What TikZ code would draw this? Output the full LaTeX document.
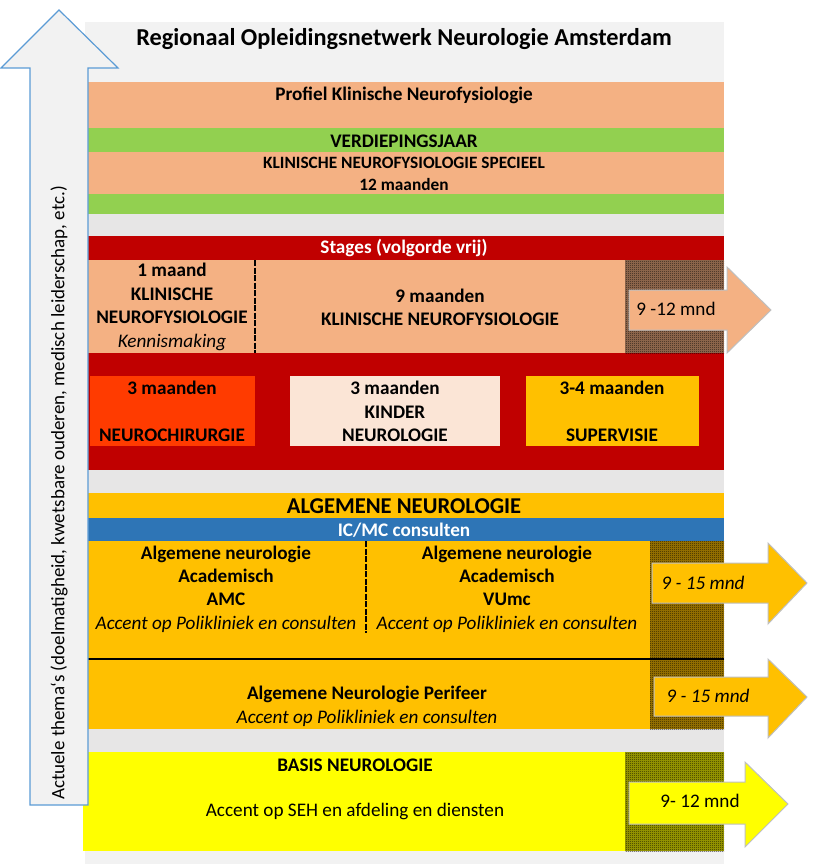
\documentclass[tikz,border=0pt]{standalone}
\usepackage{fontspec}
\setmainfont{Carlito}
\usepackage{xcolor}
\usetikzlibrary{patterns.meta}

\definecolor{panelgray}{HTML}{F2F2F2}
\definecolor{gapgray}{HTML}{E7E6E6}
\definecolor{salmon}{HTML}{F4B183}
\definecolor{leafgreen}{HTML}{92D050}
\definecolor{stagered}{HTML}{C00000}
\definecolor{flame}{HTML}{FF3B00}
\definecolor{blush}{HTML}{FBE5D6}
\definecolor{gold}{HTML}{FFC000}
\definecolor{icblue}{HTML}{2E75B6}
\definecolor{lemon}{HTML}{FFFF00}
\definecolor{themeblue}{HTML}{5B9BD5}

\tikzdeclarepattern{
  name=finechecker,
  type=uncolored,
  bottom left={(0pt,0pt)},
  top right={(2pt,2pt)},
  tile size={(2pt,2pt)},
  code={
    \fill (0pt,0pt) rectangle (1pt,1pt);
    \fill (1pt,1pt) rectangle (2pt,2pt);
  }
}

\begin{document}
\begin{tikzpicture}[x=1pt,y=-1pt]

\tikzstyle{txt} = [font=\fontsize{19.2}{23.4}\selectfont\bfseries, align=center, inner sep=0pt]
\tikzstyle{smalltxt} = [font=\fontsize{17.3}{22}\selectfont\bfseries, align=center, inner sep=0pt]
\tikzstyle{mndtxt} = [font=\fontsize{19.2}{23}\selectfont, inner sep=0pt]
\tikzstyle{hatch} = [pattern={finechecker}, pattern color=black]
\tikzstyle{mndarrow} = [draw=black!25, line width=1pt]
\tikzstyle{dashline} = [line width=2.5pt, dash pattern=on 6pt off 1.5pt]

\useasboundingbox (0,0) rectangle (813,864);

% achtergrond
\fill[panelgray] (85,22) rectangle (724,864);
\fill[gapgray] (85,214) rectangle (724,236);
\fill[gapgray] (85,470) rectangle (724,493);
\fill[gapgray] (85,729) rectangle (724,752);

% profiel
\fill[salmon] (88,82) rectangle (724,128);
\fill[leafgreen] (88,128) rectangle (724,152);
\fill[salmon] (88,152) rectangle (724,194);
\fill[leafgreen] (88,194) rectangle (724,214);

% stages
\fill[stagered] (88,236) rectangle (724,470);
\fill[salmon] (88,260) rectangle (724,353);
\fill[salmon!65!black] (625,260) rectangle (724,353);
\fill[hatch] (625,260) rectangle (724,353);
\fill[flame] (90,376) rectangle (255,446);
\fill[blush] (290,376) rectangle (500,446);
\fill[gold] (526,376) rectangle (699,446);

% algemene neurologie
\fill[gold] (88,493) rectangle (724,518);
\fill[icblue] (88,518) rectangle (724,541);
\fill[gold] (88,541) rectangle (724,729);
\fill[gold!65!black] (650,541) rectangle (724,729);
\fill[hatch] (650,541) rectangle (724,729);

% basis
\fill[lemon] (83,752) rectangle (724,851);
\fill[lemon!65!black] (625,752) rectangle (724,851);
\fill[hatch] (625,752) rectangle (724,851);

\node (title) [font=\fontsize{24.3}{28}\selectfont\bfseries, inner sep=0pt] at (404,39) {Regionaal Opleidingsnetwerk Neurologie Amsterdam};
\node (profiel) [txt] at (404,95) {Profiel Klinische Neurofysiologie};
\node (verdieping) [txt] at (404,141) {VERDIEPINGSJAAR};
\node (specieel) [smalltxt] at (404,174) {KLINISCHE NEUROFYSIOLOGIE SPECIEEL\\12 maanden};

\node (stages) [txt, text=white] at (404,248) {Stages (volgorde vrij)};
\node (kennis) [txt] at (172,307) {1 maand\\KLINISCHE\\NEUROFYSIOLOGIE\\{\mdseries\itshape Kennismaking}};
\node (knf) [txt] at (440,307.5) {9 maanden\\KLINISCHE NEUROFYSIOLOGIE};
\node (nch) [txt] at (172,411.5) {3 maanden\\[23.4pt]NEUROCHIRURGIE};
\node (kinder) [txt] at (395,411.5) {3 maanden\\KINDER\\NEUROLOGIE};
\node (supervisie) [txt] at (612,411.5) {3-4 maanden\\[23.4pt]SUPERVISIE};

\node (algemeen) [font=\fontsize{22.6}{26}\selectfont\bfseries, inner sep=0pt] at (404,506) {ALGEMENE NEUROLOGIE};
\node (icmc) [txt, text=white] at (404,530) {IC/MC consulten};
\node (amc) [txt] at (226,589) {Algemene neurologie\\Academisch\\AMC\\{\mdseries\itshape Accent op Polikliniek en consulten}};
\node (vumc) [txt] at (507,589) {Algemene neurologie\\Academisch\\VUmc\\{\mdseries\itshape Accent op Polikliniek en consulten}};
\node (perifeer) [txt] at (367,706.5) {Algemene Neurologie Perifeer\\{\mdseries\itshape Accent op Polikliniek en consulten}};

\node (basis) [txt] at (355,765) {BASIS NEUROLOGIE};
\node (seh) [mndtxt] at (355,811) {Accent op SEH en afdeling en diensten};

% scheidingslijnen
\draw[dashline] (255,260) -- (255,353);
\draw[dashline] (366,541) -- (366,633);
\draw[line width=1.5pt] (88,659) -- (724,659);

% pijlen duur
\draw[mndarrow, fill=salmon] (629,290) -- (727,290) -- (727,267) -- (771,310) -- (727,353) -- (727,330) -- (629,330) -- cycle;
\draw[mndarrow, fill=gold] (652,563) -- (768,563) -- (768,543) -- (807,583) -- (768,624) -- (768,603) -- (652,603) -- cycle;
\draw[mndarrow, fill=gold] (654,677) -- (768,677) -- (768,659) -- (807,697) -- (768,738) -- (768,716) -- (654,716) -- cycle;
\draw[mndarrow, fill=lemon] (629,782) -- (745,782) -- (745,762) -- (788,804) -- (745,847) -- (745,824) -- (629,824) -- cycle;

\node (mnd1) [mndtxt] at (676,309) {9 -12 mnd};
\node (mnd2) [mndtxt, font=\fontsize{19.2}{23}\selectfont\itshape] at (703,583) {9 - 15 mnd};
\node (mnd3) [mndtxt, font=\fontsize{19.2}{23}\selectfont\itshape] at (708,696) {9 - 15 mnd};
\node (mnd4) [mndtxt] at (700,801) {9- 12 mnd};

% pijl actuele thema's
\draw[themeblue, line width=1.2pt, fill=panelgray] (30,805) -- (30,68) -- (1,68) -- (59,10) -- (118,68) -- (88,68) -- (88,805) -- cycle;
\node (themas) [font=\fontsize{19}{22}\selectfont, rotate=90, inner sep=0pt] at (59,493) {Actuele thema`s (doelmatigheid, kwetsbare ouderen, medisch leiderschap, etc.)};

\end{tikzpicture}
\end{document}
